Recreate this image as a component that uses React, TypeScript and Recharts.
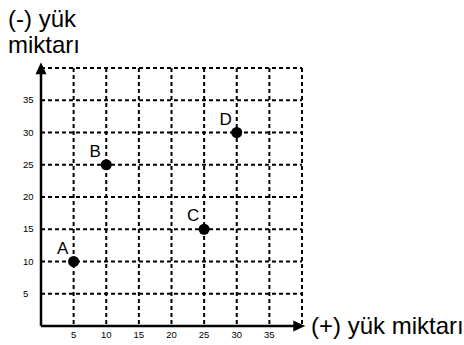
import { ScatterChart, Scatter, XAxis, YAxis, CartesianGrid, ReferenceLine } from 'recharts';

// load points
const pointNames = ['A', 'B', 'C', 'D'];
const positiveLoad = [5, 10, 25, 30];
const negativeLoad = [10, 25, 15, 30];
const gridTicks = [0, 5, 10, 15, 20, 25, 30, 35, 40];

const points = pointNames.map((name, i) => ({ name, x: positiveLoad[i], y: negativeLoad[i] }));

const FONT = '"Liberation Sans", Arial, sans-serif';
const TICK_FONT = '"Liberation Sans Narrow", "Liberation Sans", Arial, sans-serif';

const XTick = ({ x, y, payload }: any) => {
  if (payload.value === 0 || payload.value === 40) return null;
  return (
    <text x={x} y={y} dy={4} textAnchor="middle" fontSize={9.5} fontFamily={TICK_FONT} fill="#000">
      {payload.value}
    </text>
  );
};

const YTick = ({ y, payload }: any) => {
  if (payload.value === 0 || payload.value === 40) return null;
  return (
    <text x={23} y={y} dy={3} textAnchor="start" fontSize={9.5} fontFamily={TICK_FONT} fill="#000">
      {payload.value}
    </text>
  );
};

const Dot = ({ cx, cy, payload }: any) => (
  <g>
    <circle cx={cx} cy={cy} r={5.5} fill="#000" />
    <text x={cx - 11} y={cy - 8} textAnchor="middle" fontSize={17} fontFamily={FONT} fill="#000">
      {payload.name}
    </text>
  </g>
);

// axis line with an arrow head at its end
const Arrow = ({ x1, y1, x2, y2 }: any) => {
  const horizontal = Math.abs(y2 - y1) < 1;
  const head = horizontal
    ? `${x2},${y2} ${x2 - 12},${y2 - 5.5} ${x2 - 12},${y2 + 5.5}`
    : `${x2},${y2} ${x2 - 5.5},${y2 + 12} ${x2 + 5.5},${y2 + 12}`;
  return (
    <g>
      <line x1={x1} y1={y1} x2={horizontal ? x2 - 8 : x2} y2={horizontal ? y2 : y2 + 8} stroke="#000" strokeWidth={2.5} />
      <polygon points={head} fill="#000" />
    </g>
  );
};

export default function App() {
  return (
    <div style={{ position: 'absolute', left: 0, top: 0, width: 464, height: 345, background: '#fff', fontFamily: FONT }}>
      <div style={{ position: 'absolute', left: 8, top: 6, fontSize: 24, lineHeight: '26px', color: '#000' }}>
        (-) yük<br />miktarı
      </div>
      <div style={{ position: 'absolute', left: 311, top: 313, fontSize: 24, lineHeight: '26px', color: '#000', whiteSpace: 'nowrap' }}>
        (+) yük miktarı
      </div>
      <ScatterChart width={464} height={345} margin={{ top: 68, right: 162, left: 0, bottom: 0 }}>
        <CartesianGrid stroke="#000" strokeWidth={2} strokeDasharray="4 3" />
        <XAxis
          type="number"
          dataKey="x"
          domain={[0, 40]}
          ticks={gridTicks}
          height={19}
          axisLine={false}
          tickLine={false}
          tick={<XTick />}
          allowDataOverflow
        />
        <YAxis
          type="number"
          dataKey="y"
          domain={[0, 40]}
          ticks={gridTicks}
          width={41}
          axisLine={false}
          tickLine={false}
          tick={<YTick />}
          allowDataOverflow
        />
        <ReferenceLine segment={[{ x: 0, y: 0 }, { x: 40.5, y: 0 }]} ifOverflow="visible" shape={<Arrow />} />
        <ReferenceLine segment={[{ x: 0, y: 0 }, { x: 0, y: 40.9 }]} ifOverflow="visible" shape={<Arrow />} />
        <Scatter data={points} shape={<Dot />} isAnimationActive={false} />
      </ScatterChart>
    </div>
  );
}
